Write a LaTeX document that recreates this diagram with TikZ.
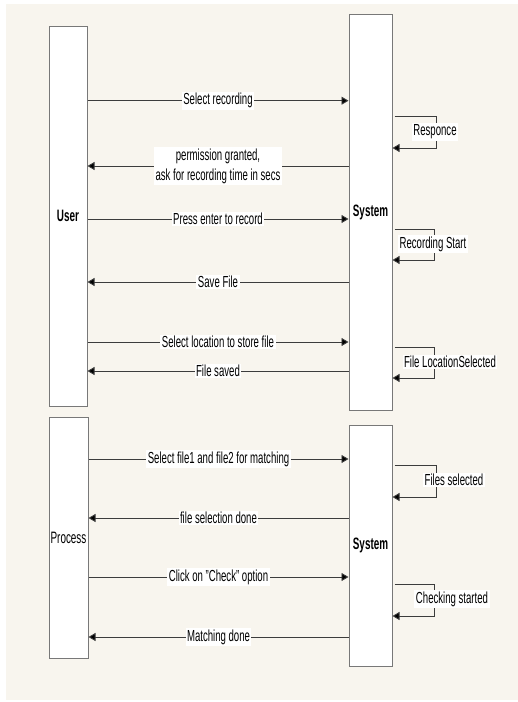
\documentclass[tikz,border=0pt]{standalone}
\usepackage{fontspec}
\setmainfont[FakeStretch=0.6]{Liberation Sans}
\usepackage{tikz}
\usetikzlibrary{arrows.meta,calc}

\definecolor{paper}{RGB}{248,245,238}
\definecolor{edge}{RGB}{120,120,120}
\definecolor{wire}{RGB}{60,60,60}

\begin{document}
\begin{tikzpicture}[
    x=1pt, y=-1pt,
    lane/.style={draw=edge, line width=1pt, fill=white, minimum width=38pt, inner sep=0pt, font=\fontsize{16.5}{20}\selectfont},
    msg/.style={wire, line width=0.9pt, -{Triangle[length=7pt,width=8pt,fill=black]}},
    lbl/.style={fill=white, text=black, inner sep=1.5pt, align=center, font=\fontsize{16}{20}\selectfont}
  ]
    \useasboundingbox (0,0) rectangle (518,702);
    \fill[paper] (6,4) rectangle (518,700);

    \node[lane, minimum height=380pt] (user) at (68,216)   {\bfseries User};
    \node[lane, minimum height=396pt, minimum width=43pt] (sys1) at (370.5,212.5) {\bfseries System};
    \node[lane, minimum height=241pt, minimum width=39pt] (proc) at (68.5,537.5) {Process};
    \node[lane, minimum height=241pt, minimum width=43pt] (sys2) at (370.5,545.5) {\bfseries System};

    % recording
    \draw[msg] (user.east |- 0,100.7) -- (sys1.west |- 0,100.7) node[midway, lbl] {Select recording};
    \draw[msg] (sys1.west |- 0,166) -- (user.east |- 0,166) node[midway, lbl] {permission granted,\\ask for recording time in secs};
    \draw[msg] (user.east |- 0,219) -- (sys1.west |- 0,219) node[midway, lbl] {Press enter to record};
    \draw[msg] (sys1.west |- 0,282) -- (user.east |- 0,282) node[midway, lbl] {Save File};
    \draw[msg] (user.east |- 0,342) -- (sys1.west |- 0,342) node[midway, lbl] {Select location to store file};
    \draw[msg] (sys1.west |- 0,371) -- (user.east |- 0,371) node[midway, lbl] {File saved};

    \draw[msg] ([xshift=2pt]sys1.east |- 0,116) -- ++(42,0) -- ++(0,32) -- (sys1.east |- 0,148);
    \node[lbl] (resp) at (435,132) {Responce};
    \draw[msg] ([xshift=2pt]sys1.east |- 0,229) -- ++(40,0) -- ++(0,31) -- (sys1.east |- 0,260);
    \node[lbl] (recstart) at (433,244) {Recording Start};
    \draw[msg] ([xshift=2pt]sys1.east |- 0,347) -- ++(40,0) -- ++(0,31) -- (sys1.east |- 0,378);
    \node[lbl] (locsel) at (450,362) {File LocationSelected};

    % matching
    \draw[msg] (proc.east |- 0,459) -- (sys2.west |- 0,459) node[midway, lbl] {Select file1 and file2 for matching};
    \draw[msg] (sys2.west |- 0,518) -- (proc.east |- 0,518) node[midway, lbl] {file selection done};
    \draw[msg] (proc.east |- 0,577) -- (sys2.west |- 0,577) node[midway, lbl] {Click on "Check" option};
    \draw[msg] (sys2.west |- 0,637) -- (proc.east |- 0,637) node[midway, lbl] {Matching done};

    \draw[msg] ([xshift=2pt]sys2.east |- 0,465) -- ++(42,0) -- ++(0,32) -- (sys2.east |- 0,497);
    \node[lbl] (filesel) at (454,480) {Files selected};
    \draw[msg] ([xshift=2pt]sys2.east |- 0,584) -- ++(40,0) -- ++(0,32) -- (sys2.east |- 0,616);
    \node[lbl] (checking) at (452,599) {Checking started};
\end{tikzpicture}
\end{document}
